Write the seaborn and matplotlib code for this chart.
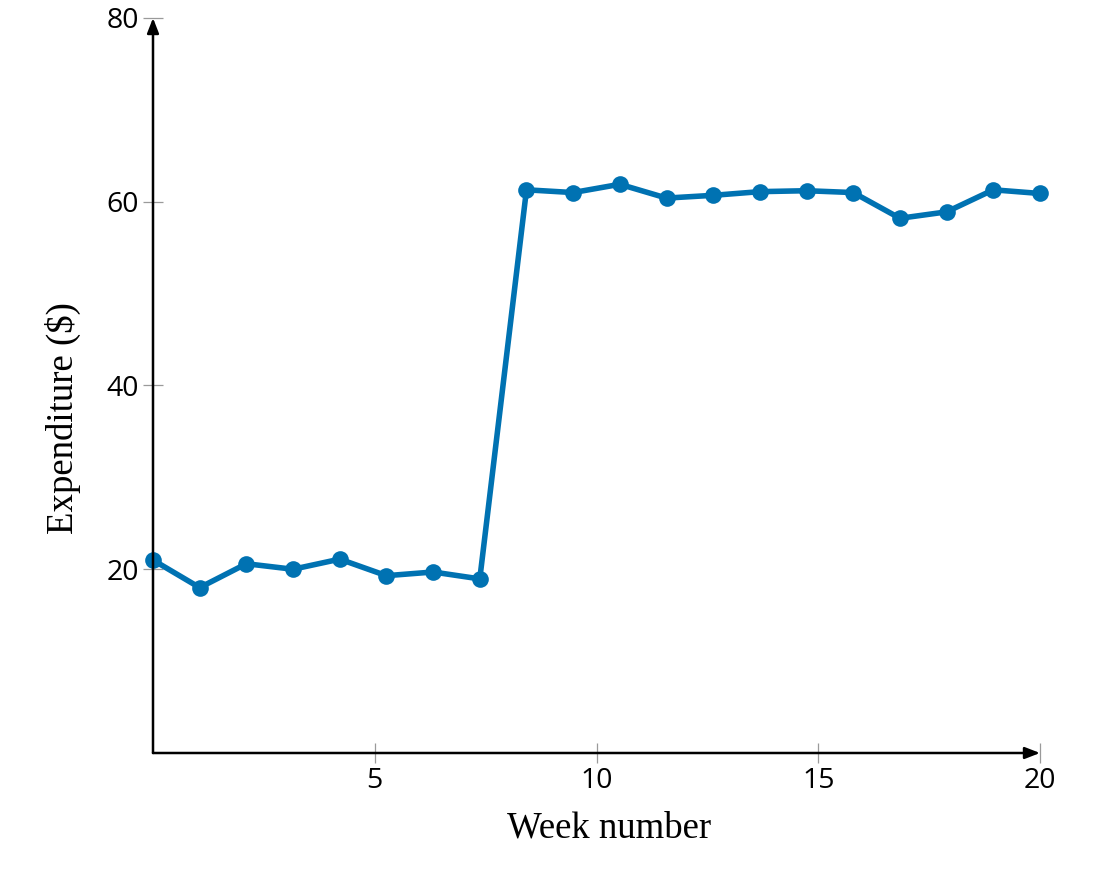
import numpy as np
import pandas as pd
import matplotlib
matplotlib.use("Agg")
import matplotlib.pyplot as plt
import seaborn as sns

# Weekly expenditure, 20 weeks spread over 0..20
week = np.linspace(0, 20, 20)
expenditure = [21.0, 18.0, 20.6, 20.0, 21.1, 19.3, 19.7, 18.95,
               61.3, 61.0, 61.9, 60.4, 60.7, 61.1, 61.2, 61.0,
               58.2, 58.9, 61.3, 60.9]
x_ticks = [5, 10, 15, 20]
y_ticks = [20, 40, 60, 80]

df = pd.DataFrame({"Week": week, "Expenditure": expenditure})

sns.set_style("white")
plt.rcParams["font.family"] = ["Open Sans", "DejaVu Sans"]

fig = plt.figure(figsize=(11.14, 8.71), dpi=100)
ax = fig.add_axes([153 / 1114, 1 - 753 / 871, (1040 - 153) / 1114, (753 - 18) / 871])

sns.lineplot(data=df, x="Week", y="Expenditure", ax=ax, color="#0072b2",
             linewidth=4, marker="o", markersize=12, markeredgewidth=0,
             clip_on=False)

ax.set_xlim(0, 20)
ax.set_ylim(0, 80)
ax.set_xticks(x_ticks)
ax.set_yticks(y_ticks)
ax.tick_params(bottom=True, left=True, direction="inout", length=14, width=0.9,
               color="#9a9a9a", labelcolor="black", labelsize=20.5, pad=3)

for s in ax.spines.values():
    s.set_visible(False)

# axis lines with arrow heads
arrow = dict(arrowstyle="-|>,head_length=0.9,head_width=0.35", color="black",
             lw=1.8, shrinkA=0, shrinkB=0)
ax.annotate("", xy=(1, 0), xytext=(0, 0), xycoords="axes fraction",
            arrowprops=arrow, annotation_clip=False)
ax.annotate("", xy=(0, 1), xytext=(0, 0), xycoords="axes fraction",
            arrowprops=arrow, annotation_clip=False)

ax.set_xlabel("Week number", fontsize=26.5, family="Liberation Serif",
              color="black")
ax.set_ylabel("Expenditure ($)", fontsize=26.5, family="Liberation Serif",
              color="black")
ax.xaxis.set_label_coords(0.514, -0.079)
ax.yaxis.set_label_coords(-0.081, 0.456)

fig.savefig("out.png", dpi=100)
